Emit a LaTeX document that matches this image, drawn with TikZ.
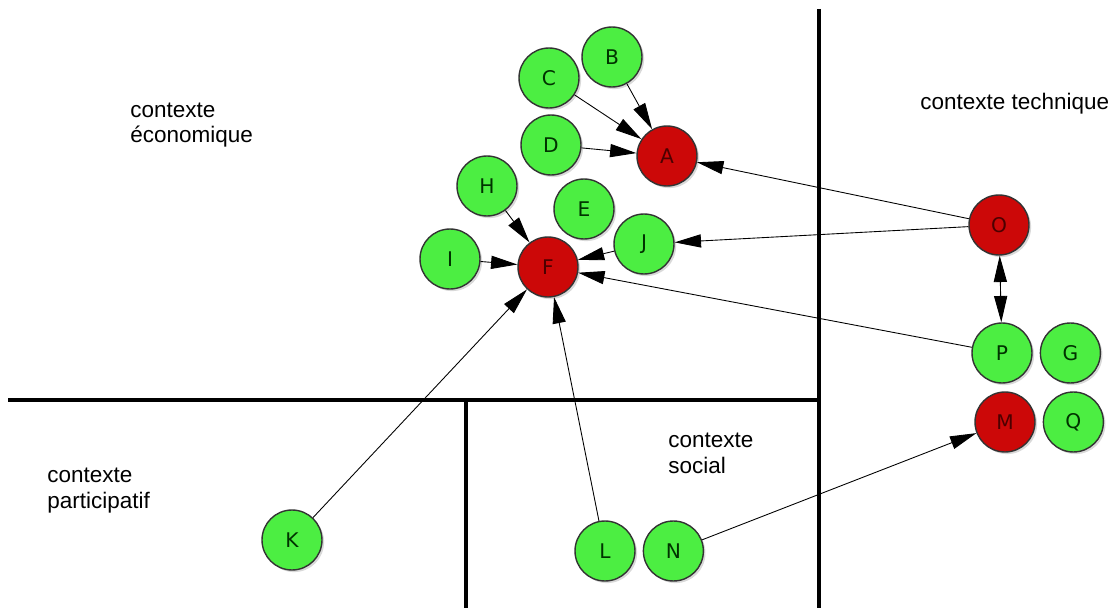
\documentclass[tikz,border=0pt]{standalone}
\usepackage{fontspec}
\setmainfont{Liberation Sans}
\newfontfamily\letterfont{DejaVu Sans}
\usetikzlibrary{arrows.meta,positioning,shadows}
\definecolor{leafgreen}{RGB}{76,238,66}
\definecolor{hubred}{RGB}{204,8,8}
\tikzstyle{actor}=[
	circle,
	draw=black!80,
	line width=0.8pt,
	minimum size=1.2cm,
	inner sep=0pt,
	font=\letterfont\fontsize{11.5}{13}\selectfont,
	drop shadow={shadow xshift=1.2pt, shadow yshift=-1.2pt, opacity=0.3}
]
\tikzstyle{minor}=[actor, fill=leafgreen, text=green!20!black]
\tikzstyle{major}=[actor, fill=hubred, text=red!30!black]
\tikzstyle{influence}=[
	-{Triangle[length=15pt,width=7.5pt]},
	line width=0.5pt
]
\tikzstyle{exchange}=[
	{Triangle[length=15pt,width=7.5pt]}-{Triangle[length=15pt,width=7.5pt]},
	line width=0.5pt
]
\tikzstyle{border}=[line width=2.6pt]
\tikzstyle{context}=[
	anchor=base west,
	align=left,
	inner sep=0pt,
	font=\fontsize{12.8}{14.5}\selectfont
]

\begin{document}
\begin{tikzpicture}[x=0.02cm, y=-0.02cm]
\useasboundingbox (0,0) rectangle (1120,608);
% separations between the contexts
\draw [border] (819,9) -- (819,608);
\draw [border] (8,400) -- (819,400);
\draw [border] (466,400) -- (466,608);
% context names (anchored on the last line)
\node [context] (economique) at (130,143) {contexte\\économique};
\node [context] (technique) at (920,110) {contexte technique};
\node [context] (participatif) at (47,508) {contexte\\participatif};
\node [context] (social) at (668,473) {contexte\\social};
% actors
\node [major] (A) at (667,156) {A};
\node [major] (F) at (548,267) {F};
\node [minor] (B) at (612,57) {B}
	edge [influence] (A);
\node [minor] (C) at (549,78) {C}
	edge [influence] (A);
\node [minor] (D) at (551,145) {D}
	edge [influence] (A);
\node [minor] (H) at (487,186) {H}
	edge [influence] (F);
\node [minor] (I) at (450,259) {I}
	edge [influence] (F);
\node [minor] (J) at (644,244) {J}
	edge [influence] (F);
\node [minor] (E) at (584,209) {E};
\node [major] (O) at (999,225) {O}
	edge [influence] (A)
	edge [influence] (J);
\node [major] (M) at (1005,422) {M};
\node [minor] (P) at (1002,353) {P}
	edge [influence] (F)
	edge [exchange] (O);
\node [minor] (G)[right=0.14cm of P] {G};
\node [minor] (Q)[right=0.14cm of M] {Q};
\node [minor] (K) at (292,540) {K}
	edge [influence] (F);
\node [minor] (L) at (605,551) {L}
	edge [influence] (F);
\node [minor] (N)[right=0.14cm of L] {N}
	edge [influence] (M);
\end{tikzpicture}
\end{document}
